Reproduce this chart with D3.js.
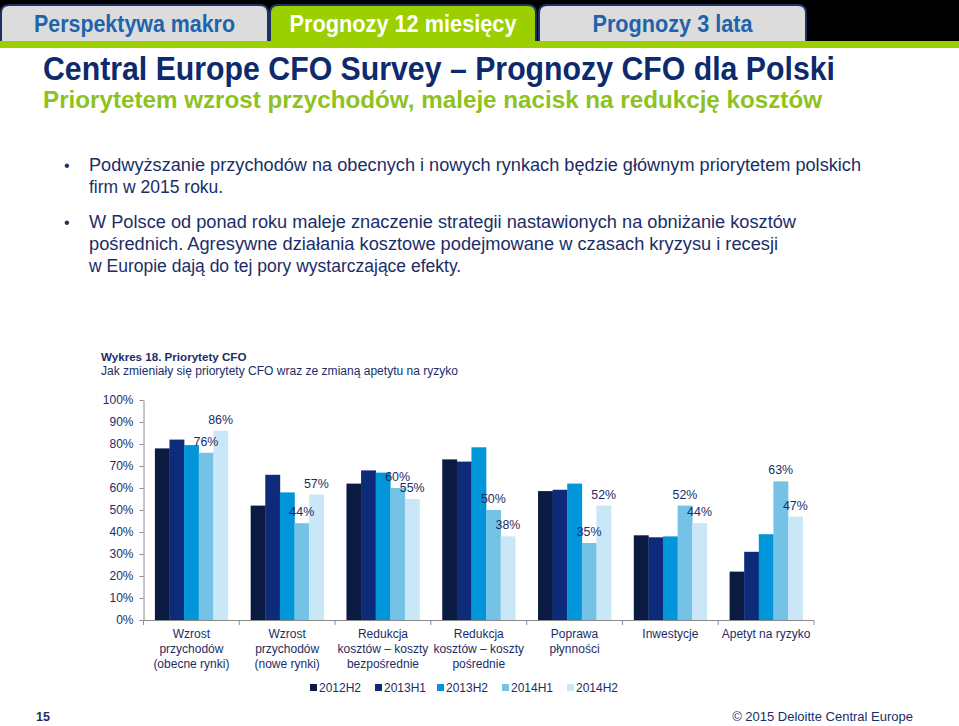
<!DOCTYPE html>
<html><head><meta charset="utf-8">
<script src="https://cdn.jsdelivr.net/npm/d3@7"></script>
<style>
html,body{margin:0;padding:0;background:#fff;}
svg{display:block;font-family:"Liberation Sans",Arial,Helvetica,sans-serif;}
</style></head>
<body>
<svg id="c" width="959" height="726"></svg>
<script>
const categories = [
  ["Wzrost","przychodów","(obecne rynki)"],
  ["Wzrost","przychodów","(nowe rynki)"],
  ["Redukcja","kosztów – koszty","bezpośrednie"],
  ["Redukcja","kosztów – koszty","pośrednie"],
  ["Poprawa","płynności"],
  ["Inwestycje"],
  ["Apetyt na ryzyko"]
];
const seriesNames = ["2012H2","2013H1","2013H2","2014H1","2014H2"];
const s2012H2 = [78, 52, 62, 73, 58.6, 38.5, 22];
const s2013H1 = [82, 66, 68, 72, 59.2, 37.6, 31];
const s2013H2 = [79.5, 58, 67, 78.5, 62, 38, 39];
const s2014H1 = [76, 44, 60, 50, 35, 52, 63];
const s2014H2 = [86, 57, 55, 38, 52, 44, 47];
const seriesValues = [s2012H2, s2013H1, s2013H2, s2014H1, s2014H2];
const labelledSeries = [3, 4];
const yTicks = [0,10,20,30,40,50,60,70,80,90,100];
const colors = ["#0b1a40","#0d2b78","#0096d9","#74c2e6","#c9e7f6"];

const navy = "#1b2d66";
const svg = d3.select("#c");

// header band
svg.append("rect").attr("x",0).attr("y",0).attr("width",959).attr("height",41).attr("fill","#000");
const tabs = [
  {x:1, w:267, t:"Perspektywa makro", fill:"#dcdcdc", col:"#1f63ad", tl:201},
  {x:270, w:266, t:"Prognozy 12 miesięcy", fill:"#9ccf00", col:"#ffffff", tl:227},
  {x:539, w:267, t:"Prognozy 3 lata", fill:"#dcdcdc", col:"#1f63ad", tl:160}
];
tabs.forEach(tb=>{
  const r=8, x=tb.x, y=5, w=tb.w, h=37;
  svg.append("path")
    .attr("d",`M${x},${y+h} L${x},${y+r} Q${x},${y} ${x+r},${y} L${x+w-r},${y} Q${x+w},${y} ${x+w},${y+r} L${x+w},${y+h}`)
    .attr("fill",tb.fill).attr("stroke","#1d3263").attr("stroke-width",2);
  svg.append("text").attr("x",x+w/2).attr("y",32).attr("text-anchor","middle")
    .attr("font-size",23.5).attr("font-weight","bold").attr("fill",tb.col)
    .attr("textLength",tb.tl).attr("lengthAdjust","spacingAndGlyphs").text(tb.t);
});
svg.append("rect").attr("x",0).attr("y",41).attr("width",959).attr("height",7).attr("fill","#9ccf00");

// titles
svg.append("text").attr("x",43).attr("y",80).attr("font-size",32.5).attr("font-weight","bold")
  .attr("fill","#0c2a6d").attr("textLength",792).attr("lengthAdjust","spacingAndGlyphs")
  .text("Central Europe CFO Survey – Prognozy CFO dla Polski");
svg.append("text").attr("x",43).attr("y",108).attr("font-size",24).attr("font-weight","bold")
  .attr("fill","#8dc21f").attr("textLength",779).attr("lengthAdjust","spacingAndGlyphs")
  .text("Priorytetem wzrost przychodów, maleje nacisk na redukcję kosztów");

// bullets
const bulletLines = [
  {y:171, t:"Podwyższanie przychodów na obecnych i nowych rynkach będzie głównym priorytetem polskich", b:true, w:772},
  {y:193, t:"firm w 2015 roku."},
  {y:228, t:"W Polsce od ponad roku maleje znaczenie strategii nastawionych na obniżanie kosztów", b:true, w:707},
  {y:250, t:"pośrednich. Agresywne działania kosztowe podejmowane w czasach kryzysu i recesji", w:689},
  {y:272, t:"w Europie dają do tej pory wystarczające efekty."}
];
bulletLines.forEach(l=>{
  if(l.b) svg.append("text").attr("x",64).attr("y",l.y).attr("font-size",16).attr("fill",navy).text("•");
  const t = svg.append("text").attr("x",89).attr("y",l.y).attr("font-size",17.5).attr("fill",navy).text(l.t);
  if(l.w) t.attr("textLength",l.w).attr("lengthAdjust","spacingAndGlyphs");
});

// chart titles
svg.append("text").attr("x",101).attr("y",361).attr("font-size",11.6).attr("font-weight","bold").attr("fill",navy).text("Wykres 18. Priorytety CFO");
svg.append("text").attr("x",101).attr("y",375).attr("font-size",12).attr("fill",navy)
  .attr("textLength",357).attr("lengthAdjust","spacingAndGlyphs")
  .text("Jak zmieniały się priorytety CFO wraz ze zmianą apetytu na ryzyko");

// scales
const y = d3.scaleLinear().domain([0,100]).range([620,400]);
const x0 = d3.scaleBand().domain(d3.range(categories.length)).range([143.5,814]).paddingInner(0).paddingOuter(0);
const x1 = d3.scaleBand().domain(d3.range(seriesNames.length)).range([0,x0.bandwidth()]).paddingInner(0).paddingOuter(0.78);

// y axis
const yAxis = svg.append("g").attr("transform","translate(143.5,0)")
  .call(d3.axisLeft(y).tickValues(yTicks).tickFormat(d=>d+"%").tickSize(4).tickSizeOuter(0));
yAxis.select(".domain").attr("stroke","#8c8c8c");
yAxis.selectAll(".tick line").attr("stroke","#8c8c8c");
yAxis.selectAll(".tick text").attr("font-size",12).attr("fill",navy).attr("font-family","Liberation Sans, Arial, sans-serif").attr("x",-10);

// bars
const groups = svg.append("g").selectAll("g").data(categories).join("g")
  .attr("transform",(d,i)=>`translate(${x0(i)},0)`);
groups.each(function(cat,ci){
  const g = d3.select(this);
  seriesValues.forEach((vals,si)=>{
    g.append("rect").attr("x",x1(si)).attr("width",x1.bandwidth()+0.3)
      .attr("y",y(vals[ci])).attr("height",y(0)-y(vals[ci])).attr("fill",colors[si]);
  });
});
groups.each(function(cat,ci){
  const g = d3.select(this);
  labelledSeries.forEach(si=>{
    const v = seriesValues[si][ci];
    g.append("text").attr("x",x1(si)+x1.bandwidth()/2).attr("y",y(v)-7)
      .attr("text-anchor","middle").attr("font-size",12.4).attr("fill",navy).text(Math.round(v)+"%");
  });
});

// x axis
const bounds = d3.range(categories.length+1).map(i=> i<categories.length ? x0(i) : x0(categories.length-1)+x0.bandwidth());
svg.append("line").attr("x1",143.5).attr("x2",814).attr("y1",620.5).attr("y2",620.5).attr("stroke","#8c8c8c");
bounds.forEach(b=>svg.append("line").attr("x1",b).attr("x2",b).attr("y1",620.5).attr("y2",625).attr("stroke","#8c8c8c"));

// category labels
categories.forEach((lines,ci)=>{
  const t = svg.append("text").attr("text-anchor","middle").attr("font-size",12).attr("fill",navy);
  lines.forEach((ln,li)=>{
    t.append("tspan").attr("x",x0(ci)+x0.bandwidth()/2).attr("y",638+li*15).text(ln);
  });
});

// legend
const legX = [310,375,437,502,567];
seriesNames.forEach((n,i)=>{
  svg.append("rect").attr("x",legX[i]).attr("y",684).attr("width",7).attr("height",7).attr("fill",colors[i]);
  svg.append("text").attr("x",legX[i]+9).attr("y",692).attr("font-size",12).attr("fill",navy).text(n);
});

// footer
svg.append("text").attr("x",36).attr("y",721).attr("font-size",12.5).attr("font-weight","bold").attr("fill",navy).text("15");
svg.append("text").attr("x",913).attr("y",721).attr("text-anchor","end").attr("font-size",13).attr("fill",navy).text("© 2015 Deloitte Central Europe");
</script>
</body></html>
